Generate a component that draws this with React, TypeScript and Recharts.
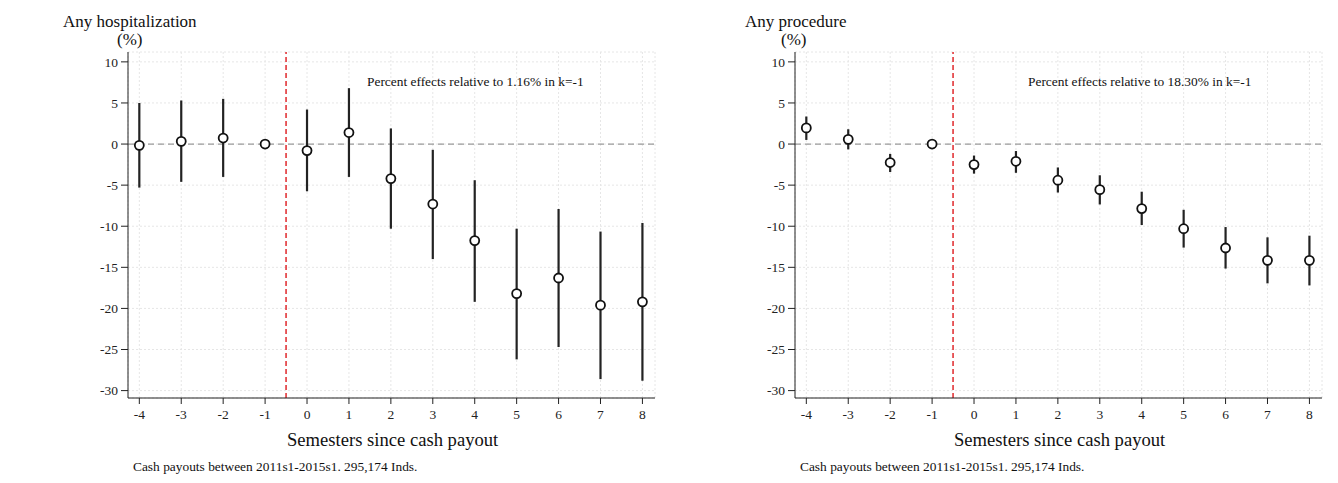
import React from "react"
import { ScatterChart, Scatter, XAxis, YAxis, CartesianGrid, ReferenceLine, ErrorBar } from "recharts"

// semesters since payout
const semesters = [-4, -3, -2, -1, 0, 1, 2, 3, 4, 5, 6, 7, 8]
const yTicks = [10, 5, 0, -5, -10, -15, -20, -25, -30]

// Any hospitalization (% effect), point estimate and 95% CI
const hospEst = [-0.16, 0.33, 0.73, 0, -0.8, 1.4, -4.2, -7.3, -11.75, -18.2, -16.3, -19.6, -19.2]
const hospLo = [-5.3, -4.6, -4.0, 0, -5.75, -4.0, -10.3, -14.0, -19.2, -26.2, -24.7, -28.6, -28.8]
const hospHi = [5.0, 5.3, 5.5, 0, 4.2, 6.8, 1.9, -0.7, -4.4, -10.3, -7.9, -10.65, -9.6]

// Any procedure (% effect)
const procEst = [1.96, 0.57, -2.25, 0, -2.5, -2.1, -4.4, -5.55, -7.85, -10.3, -12.65, -14.15, -14.15]
const procLo = [0.5, -0.65, -3.4, 0, -3.6, -3.5, -5.9, -7.35, -9.85, -12.6, -15.15, -16.95, -17.2]
const procHi = [3.35, 1.8, -1.2, 0, -1.4, -0.85, -2.85, -3.8, -5.8, -8.0, -10.1, -11.35, -11.15]

const serif = "Liberation Serif, DejaVu Serif, serif"

interface PanelProps {
  title: string
  note: string
  est: number[]
  lo: number[]
  hi: number[]
  axisLeft: number
  titleLeft: number
  pctLeft: number
  noteLeft: number
}

const Hollow = (props: any) => {
  const { cx, cy } = props
  if (cx == null || cy == null) return null
  return <circle cx={cx} cy={cy} r={4.5} fill="#fff" stroke="#111" strokeWidth={1.8} />
}

const XTick = ({ x, y, payload }: any) => (
  <text x={x} y={y} dy="0.71em" textAnchor="middle" fill="#222" fontSize={13.5} fontFamily={serif}>
    {payload.value}
  </text>
)

const YTick = ({ x, y, payload }: any) => (
  <text x={x} y={y} dy="0.35em" textAnchor="end" fill="#222" fontSize={13.5} fontFamily={serif}>
    {payload.value}
  </text>
)

function Panel({ title, note, est, lo, hi, axisLeft, titleLeft, pctLeft, noteLeft }: PanelProps) {
  const data = semesters.map((k, i) => ({
    k,
    est: est[i],
    err: [est[i] - lo[i], hi[i] - est[i]],
  }))
  const txt = { position: "absolute" as const, fontFamily: serif, color: "#111", whiteSpace: "nowrap" as const }

  return (
    <div style={{ position: "relative", width: 669, height: 483, fontFamily: serif }}>
      <ScatterChart
        width={669}
        height={483}
        margin={{ top: 52, right: 669 - axisLeft - 527, bottom: 55, left: 0 }}
      >
        <CartesianGrid stroke="#e6e6e6" strokeDasharray="2 2" />
        <XAxis
          type="number"
          dataKey="k"
          domain={[-4.27, 8.3]}
          ticks={semesters}
          interval={0}
          height={30}
          tick={<XTick />}
          tickSize={6}
          tickMargin={5}
          axisLine={{ stroke: "#222" }}
          tickLine={{ stroke: "#222" }}
        />
        <YAxis
          type="number"
          dataKey="est"
          domain={[-30.9, 11.2]}
          ticks={yTicks}
          interval={0}
          width={axisLeft}
          tick={<YTick />}
          tickSize={7}
          tickMargin={3}
          axisLine={{ stroke: "#222" }}
          tickLine={{ stroke: "#222" }}
        />
        <ReferenceLine y={0} stroke="#9a9a9a" strokeWidth={1.3} strokeDasharray="6 4" />
        <ReferenceLine x={-0.5} stroke="#e0282c" strokeWidth={1.5} strokeDasharray="5 3" />
        <Scatter data={data} dataKey="est" shape={<Hollow />} isAnimationActive={false}>
          <ErrorBar dataKey="err" direction="y" width={0} stroke="#222" strokeWidth={2.2} />
        </Scatter>
      </ScatterChart>
      <div style={{ ...txt, left: titleLeft, top: 12, fontSize: 17 }}>{title}</div>
      <div style={{ ...txt, left: pctLeft, top: 30, fontSize: 17 }}>(%)</div>
      <div style={{ ...txt, left: noteLeft, top: 74, fontSize: 13.4 }}>{note}</div>
      <div style={{ ...txt, left: axisLeft + 159, top: 429, fontSize: 18.6 }}>Semesters since cash payout</div>
      <div style={{ ...txt, left: axisLeft + 5, top: 459, fontSize: 13.4 }}>
        Cash payouts between 2011s1-2015s1. 295,174 Inds.
      </div>
    </div>
  )
}

export default function App() {
  return (
    <div style={{ position: "absolute", left: 0, top: 0, width: 1338, height: 483, background: "#fff", display: "flex" }}>
      <Panel
        title="Any hospitalization"
        note="Percent effects relative to 1.16% in k=-1"
        est={hospEst}
        lo={hospLo}
        hi={hospHi}
        axisLeft={128}
        titleLeft={63}
        pctLeft={117}
        noteLeft={367}
      />
      <Panel
        title="Any procedure"
        note="Percent effects relative to 18.30% in k=-1"
        est={procEst}
        lo={procLo}
        hi={procHi}
        axisLeft={126}
        titleLeft={76}
        pctLeft={112}
        noteLeft={359}
      />
    </div>
  )
}
